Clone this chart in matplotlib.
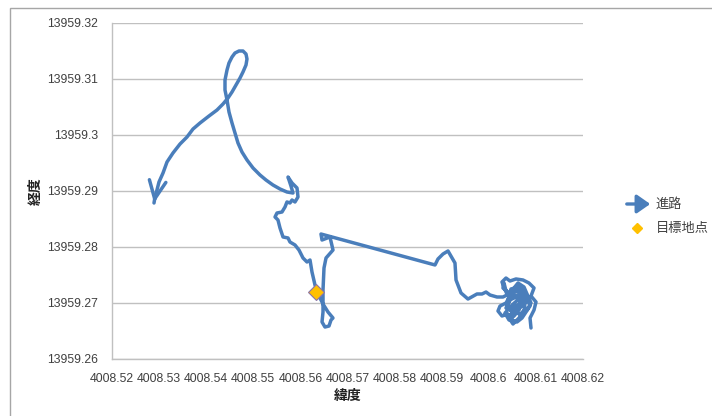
import matplotlib
matplotlib.use("Agg")
import matplotlib.pyplot as plt
from matplotlib.patches import Rectangle, FancyArrowPatch
from matplotlib.lines import Line2D

plt.rcParams['font.family'] = ['Liberation Sans', 'Noto Sans CJK JP', 'DejaVu Sans']

# ---- data: route (緯度 = x, 経度 = y) ----
route_lat = [
    4008.60896, 4008.60875, 4008.60960, 4008.61002, 4008.60896, 4008.60960, 4008.60853, 4008.60726,
    4008.60577, 4008.60450, 4008.60365, 4008.60280, 4008.60344, 4008.60450, 4008.60365, 4008.60238,
    4008.60195, 4008.60280, 4008.60408, 4008.60493, 4008.60599, 4008.60705, 4008.60790, 4008.60875,
    4008.60811, 4008.60662, 4008.60535, 4008.60620, 4008.60747, 4008.60811, 4008.60705, 4008.60577,
    4008.60471, 4008.60365, 4008.60450, 4008.60577, 4008.60684, 4008.60641, 4008.60535, 4008.60429,
    4008.60344, 4008.60493, 4008.60662, 4008.60769, 4008.60641, 4008.60471,
    4008.60408, 4008.60556, 4008.60705, 4008.60832, 4008.60896, 4008.60811, 4008.60662, 4008.60493,
    4008.60386, 4008.60471, 4008.60620, 4008.60747, 4008.60769, 4008.60641, 4008.60514, 4008.60429,
    4008.60535, 4008.60726, 4008.60853, 4008.60747, 4008.60577, 4008.60429, 4008.60301, 4008.60323,
    4008.60386, 4008.60301,
    4008.60174, 4008.60025, 4008.59941, 4008.59856, 4008.59749, 4008.59558, 4008.59410, 4008.59304,
    4008.59282, 4008.59134, 4008.59028, 4008.58921, 4008.58858, 4008.56437, 4008.56459, 4008.56628,
    4008.56692, 4008.56544, 4008.56501, 4008.56480, 4008.56480, 4008.56459, 4008.56522, 4008.56607,
    4008.56650, 4008.56692, 4008.56586, 4008.56480, 4008.56374, 4008.56310, 4008.56246, 4008.56204,
    4008.56140, 4008.56055, 4008.55970, 4008.55885, 4008.55779, 4008.55737, 4008.55631, 4008.55567,
    4008.55524, 4008.55461, 4008.55503, 4008.55609, 4008.55673, 4008.55715, 4008.55779, 4008.55822,
    4008.55885, 4008.55949, 4008.55928, 4008.55822, 4008.55737, 4008.55800, 4008.55843, 4008.55715,
    4008.55567, 4008.55418, 4008.55270, 4008.55142, 4008.54994, 4008.54866, 4008.54760, 4008.54675,
    4008.54611, 4008.54548, 4008.54484, 4008.54442, 4008.54399, 4008.54399, 4008.54442, 4008.54484,
    4008.54548, 4008.54611, 4008.54696, 4008.54781, 4008.54845, 4008.54866, 4008.54845, 4008.54781,
    4008.54718, 4008.54633, 4008.54548, 4008.54463, 4008.54357, 4008.54229, 4008.54059, 4008.53868,
    4008.53720, 4008.53592, 4008.53444, 4008.53295, 4008.53168, 4008.53083, 4008.52998, 4008.52955,
    4008.52913, 4008.52892,
]
route_lon = [
    13959.26554, 13959.26732, 13959.26875, 13959.27018, 13959.27125, 13959.27268, 13959.27357, 13959.27411,
    13959.27429, 13959.27393, 13959.27446, 13959.27375, 13959.27232, 13959.27125, 13959.27000, 13959.26946,
    13959.26857, 13959.26768, 13959.26804, 13959.26696, 13959.26661, 13959.26732, 13959.26839, 13959.26946,
    13959.27089, 13959.27179, 13959.27268, 13959.27357, 13959.27286, 13959.27161, 13959.27018, 13959.26946,
    13959.26875, 13959.26911, 13959.27054, 13959.27107, 13959.27000, 13959.26875, 13959.26768, 13959.26696,
    13959.26821, 13959.26964, 13959.27089, 13959.27196, 13959.27286, 13959.27250,
    13959.27054, 13959.27196, 13959.27232, 13959.27125, 13959.27000, 13959.26875, 13959.26804, 13959.26839,
    13959.26946, 13959.27089, 13959.27143, 13959.27054, 13959.26911, 13959.26732, 13959.26625, 13959.26732,
    13959.26875, 13959.26946, 13959.27089, 13959.27196, 13959.27232, 13959.27179, 13959.27268, 13959.27357,
    13959.27143, 13959.27107,
    13959.27107, 13959.27143, 13959.27196, 13959.27161, 13959.27161, 13959.27071, 13959.27179, 13959.27411,
    13959.27714, 13959.27929, 13959.27875, 13959.27786, 13959.27679, 13959.28232, 13959.28125, 13959.28179,
    13959.27946, 13959.27804, 13959.27625, 13959.27232, 13959.26839, 13959.26661, 13959.26571, 13959.26589,
    13959.26696, 13959.26732, 13959.26839, 13959.26982, 13959.27161, 13959.27321, 13959.27554, 13959.27768,
    13959.27732, 13959.27804, 13959.27946, 13959.28036, 13959.28089, 13959.28161, 13959.28179, 13959.28339,
    13959.28482, 13959.28536, 13959.28607, 13959.28625, 13959.28714, 13959.28804, 13959.28786, 13959.28839,
    13959.28804, 13959.28893, 13959.29054, 13959.29143, 13959.29250, 13959.29089, 13959.28964, 13959.28982,
    13959.29036, 13959.29107, 13959.29196, 13959.29286, 13959.29411, 13959.29554, 13959.29696, 13959.29857,
    13959.30036, 13959.30214, 13959.30411, 13959.30625, 13959.30804, 13959.30982, 13959.31161, 13959.31286,
    13959.31393, 13959.31464, 13959.31500, 13959.31500, 13959.31446, 13959.31357, 13959.31250, 13959.31125,
    13959.31018, 13959.30893, 13959.30768, 13959.30661, 13959.30554, 13959.30446, 13959.30339, 13959.30214,
    13959.30107, 13959.29964, 13959.29839, 13959.29679, 13959.29518, 13959.29321, 13959.29161, 13959.29018,
    13959.28893, 13959.28786,
]

# target point
target_lat = [4008.56331]
target_lon = [13959.27196]

# axis ticks
xticks = [4008.52, 4008.53, 4008.54, 4008.55, 4008.56, 4008.57, 4008.58, 4008.59, 4008.60, 4008.61, 4008.62]
xtick_labels = ["4008.52", "4008.53", "4008.54", "4008.55", "4008.56", "4008.57",
                "4008.58", "4008.59", "4008.6", "4008.61", "4008.62"]
yticks = [13959.26, 13959.27, 13959.28, 13959.29, 13959.30, 13959.31, 13959.32]
ytick_labels = ["13959.26", "13959.27", "13959.28", "13959.29", "13959.3", "13959.31", "13959.32"]

series_names = ["進路", "目標地点"]
x_label = "緯度"
y_label = "経度"

LINE_C = "#4A7EBB"
DIAMOND_C = "#FFC000"
GRID_C = "#C0C0C0"
TEXT_C = "#404040"

fig = plt.figure(figsize=(7.12, 4.16), dpi=100)
ax = fig.add_axes([112 / 712, 1 - 359 / 416, (583 - 112) / 712, (359 - 23) / 416])

ax.plot(route_lat, route_lon, color=LINE_C, lw=2.5, solid_joinstyle='round',
        solid_capstyle='round', zorder=3)
ax.annotate('', xy=(route_lat[-1], route_lon[-1]), xytext=(route_lat[-2], route_lon[-2]),
            arrowprops=dict(arrowstyle='->,head_length=1.3,head_width=0.6', color=LINE_C,
                            lw=2.5, shrinkA=0, shrinkB=0), zorder=3)
ax.plot(target_lat, target_lon, linestyle='none', marker='D', markersize=8.5,
        markerfacecolor=DIAMOND_C, markeredgecolor='#8B74A8', markeredgewidth=0.8, zorder=4)

ax.set_xlim(xticks[0], xticks[-1])
ax.set_ylim(yticks[0], yticks[-1])
ax.set_xticks(xticks, labels=xtick_labels)
ax.set_yticks(yticks, labels=ytick_labels)
ax.tick_params(axis='both', length=0, labelsize=8.8, colors=TEXT_C)
ax.tick_params(axis='x', pad=10)
ax.tick_params(axis='y', pad=10)
ax.yaxis.grid(True, color=GRID_C, lw=1.0)
ax.set_axisbelow(True)
for s in ['top', 'right']:
    ax.spines[s].set_visible(False)
for s in ['left', 'bottom']:
    ax.spines[s].set_color(GRID_C)
    ax.spines[s].set_linewidth(1.0)

ax.set_xlabel(x_label, family=['Noto Sans CJK JP'], fontweight='bold', fontsize=10, color='#222222')
ax.set_ylabel(y_label, family=['Noto Sans CJK JP'], fontweight='bold', fontsize=10, color='#222222')
ax.xaxis.set_label_coords(0.5, (359 - 389) / 336)
ax.yaxis.set_label_coords((43 - 112) / 471, 0.5)

# legend (drawn manually to mimic Excel)
fig.add_artist(FancyArrowPatch((624 / 712, 1 - 204 / 416), (653 / 712, 1 - 204 / 416),
                               transform=fig.transFigure, arrowstyle='-|>,head_length=5,head_width=3.5',
                               mutation_scale=1.6, color=LINE_C, lw=2.4))
fig.text(656 / 712, 1 - 204 / 416, series_names[0], family=['Noto Sans CJK JP'], fontsize=9.5,
         color=TEXT_C, va='center', ha='left')
fig.add_artist(Line2D([637 / 712], [1 - 228 / 416], transform=fig.transFigure, marker='D',
                      markersize=5, markerfacecolor=DIAMOND_C, markeredgecolor=DIAMOND_C, linestyle='none'))
fig.text(656 / 712, 1 - 228 / 416, series_names[1], family=['Noto Sans CJK JP'], fontsize=9.5,
         color=TEXT_C, va='center', ha='left')

# chart-area frame
fig.add_artist(Rectangle((10 / 712, -0.1), 1.2, (1 - 8 / 416) + 0.1, transform=fig.transFigure,
                         fill=False, edgecolor='#A6A6A6', lw=1.0))

fig.savefig("out.png", dpi=100)
